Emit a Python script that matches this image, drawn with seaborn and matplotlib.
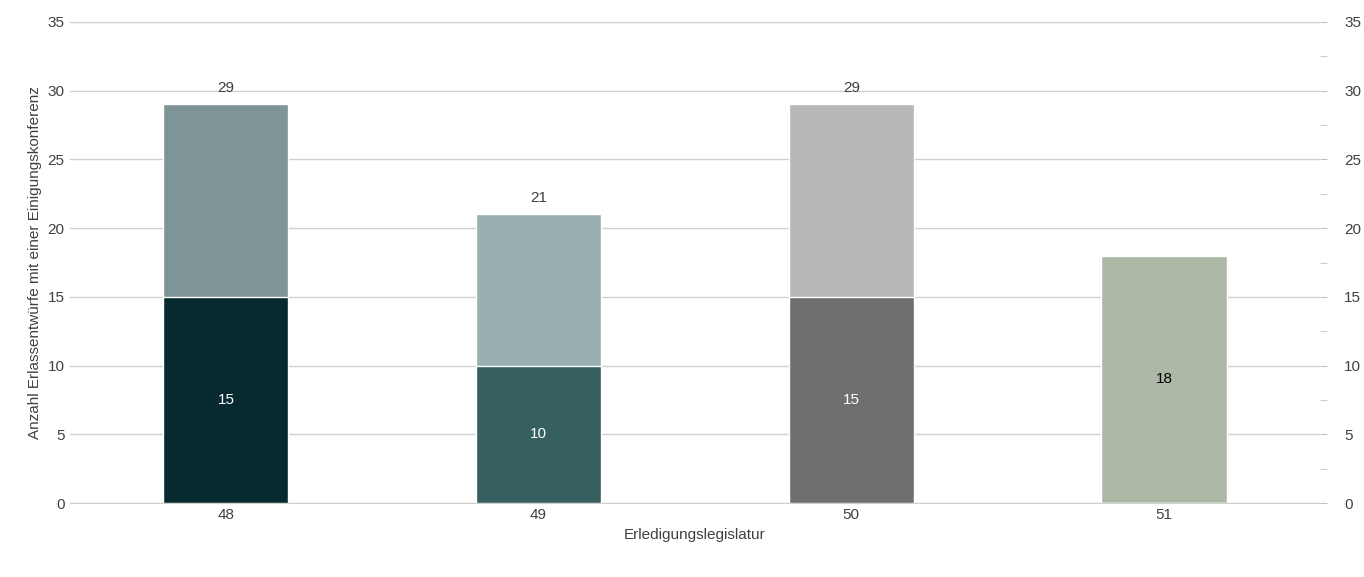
import matplotlib
matplotlib.use("Agg")
import matplotlib.pyplot as plt
import seaborn as sns
import pandas as pd

# data
legislatur = ["48", "49", "50", "51"]
total = [29, 21, 29, 18]
bottom_part = [15, 10, 15, 0]
total_colors = ["#7f9496", "#9aafb0", "#b8b8b8", "#adb9a6"]
bottom_colors = ["#062a30", "#35605f", "#6f6f6f", "#adb9a6"]

sns.set_style("white")
plt.rcParams["font.family"] = ["Liberation Sans", "DejaVu Sans"]

df = pd.DataFrame({"leg": legislatur, "total": total, "bottom": bottom_part})

fig = plt.figure(figsize=(13.64, 5.77), dpi=100)
ax = fig.add_axes([0.051, 0.128, 0.917, 0.834])

sns.barplot(data=df, x="leg", y="total", hue="leg", palette=total_colors,
            width=0.4, legend=False, ax=ax, zorder=2, saturation=1)
sns.barplot(data=df, x="leg", y="bottom", hue="leg", palette=bottom_colors,
            width=0.4, legend=False, ax=ax, zorder=3, saturation=1)

for i, (t, b) in enumerate(zip(total, bottom_part)):
    if b > 0:
        ax.text(i, t + 0.7, str(t), ha="center", va="bottom", fontsize=11, color="#404040")
        ax.text(i, b / 2, str(b), ha="center", va="center", fontsize=11, color="white")
    else:
        ax.text(i, t / 2, str(t), ha="center", va="center", fontsize=11, color="black")

ax.set_ylim(0, 35)
ax.set_xlim(-0.5, 3.5)
ax.set_yticks(range(0, 36, 5))
ax.yaxis.grid(True, color="#d0d0d0", linewidth=1, zorder=0)
ax.set_axisbelow(True)
for s in ["top", "right", "left"]:
    ax.spines[s].set_visible(False)
ax.spines["bottom"].set_color("#d0d0d0")
ax.tick_params(axis="both", length=0, labelsize=11, labelcolor="#404040")
ax.set_xlabel("Erledigungslegislatur", fontsize=11, color="#404040")
ax.set_ylabel("Anzahl Erlassentwürfe mit einer Einigungskonferenz", fontsize=11, color="#404040")

ax2 = ax.twinx()
ax2.set_ylim(0, 35)
ax2.set_yticks(range(0, 36, 5))
ax2.set_yticks([x * 2.5 for x in range(15)], minor=True)
for s in ax2.spines.values():
    s.set_visible(False)
ax2.tick_params(axis="y", which="both", length=5, color="#c0c0c0", labelsize=11, labelcolor="#404040", pad=12)

fig.savefig("out.png", dpi=100)
